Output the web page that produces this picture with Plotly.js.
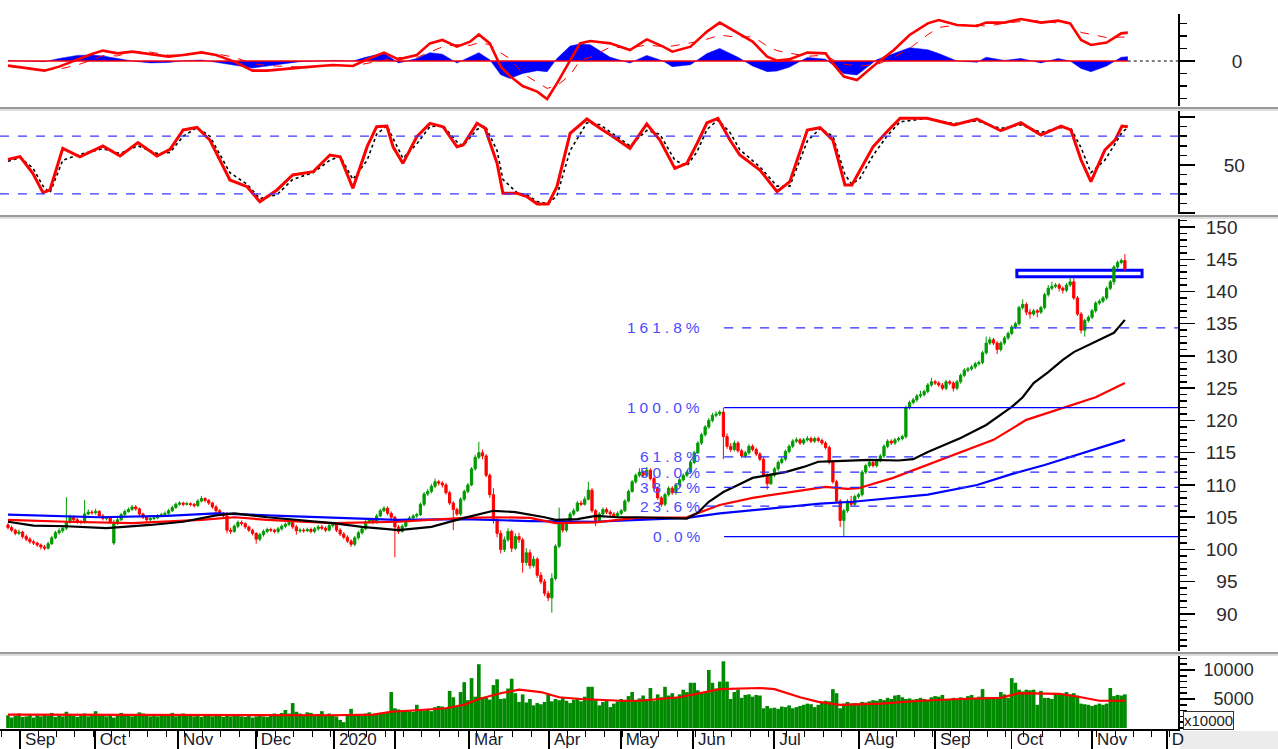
<!DOCTYPE html>
<html><head><meta charset="utf-8">
<script src="https://cdn.plot.ly/plotly-3.0.1.min.js"></script>
<style>html,body{margin:0;padding:0;background:#fff;overflow:hidden}#chart{width:1278px;height:749px}</style>
</head><body><div id="chart"></div>
<script>
// ---------- DATA ----------
const monthTicks = [3.3, 23.8, 46.6, 67.9, 89.3, 106.0, 126.3, 148.2, 167.9, 187.7, 209.9, 233.2, 254.0, 275.0, 297.0, 317.5];
const monthLabels = ['Sep','Oct','Nov','Dec','2020','','Mar','Apr','May','Jun','Jul','Aug','Sep','Oct','Nov','D'];

const open = [
103.8,103.4,103.0,102.5,102.7,102.0,101.6,101.2,101.0,100.7,
100.4,100.2,100.9,101.8,102.6,102.9,103.3,104.2,105.0,104.6,
104.3,104.2,105.5,105.8,105.7,105.9,105.2,104.8,104.9,101.0,
104.0,104.6,105.4,105.9,106.2,106.6,106.3,105.5,105.0,104.6,
104.8,104.9,105.2,105.4,105.6,106.0,106.5,107.0,107.2,107.0,
107.1,107.0,106.8,107.5,107.9,107.6,107.2,106.6,106.0,105.5,
105.2,103.0,102.8,103.6,104.2,104.0,103.5,103.0,102.5,101.6,
102.3,102.8,103.1,103.0,102.8,103.2,103.6,103.9,104.2,103.5,
102.9,103.0,102.9,103.1,102.8,103.2,103.5,103.3,103.0,103.7,
104.0,103.0,102.4,101.9,101.3,100.8,101.8,102.6,103.2,104.3,
104.6,104.2,105.2,106.0,106.4,105.6,105.0,103.5,102.8,103.6,
104.5,104.9,105.2,105.4,107.0,108.6,109.0,109.8,110.5,110.3,
110.0,108.8,107.2,106.2,105.5,107.8,109.0,110.0,112.5,114.3,
115.0,114.5,111.5,108.5,104.5,102.5,100.0,101.5,102.8,100.2,
102.0,101.5,98.0,99.5,97.5,98.5,96.0,95.0,93.2,92.5,
95.5,100.5,104.0,103.0,104.2,105.5,106.0,107.2,107.0,107.8,
109.2,106.0,104.5,105.5,106.2,105.8,105.5,105.2,105.6,106.0,
107.5,109.0,110.5,111.5,112.0,111.5,112.3,111.0,109.5,108.0,
107.0,108.5,109.5,108.8,110.0,110.8,111.5,112.0,113.5,115.0,
116.5,117.8,119.0,120.0,120.8,121.0,121.3,117.5,116.0,115.5,
116.5,115.3,114.5,115.0,116.0,115.5,114.8,114.0,111.5,110.2,
111.5,112.5,113.5,114.0,115.2,116.0,116.8,117.0,116.5,117.0,
117.2,116.8,117.2,116.9,116.5,115.8,113.5,110.5,107.5,104.5,
106.0,107.5,107.0,108.2,108.5,112.0,113.0,113.5,113.0,113.8,
114.5,116.0,116.8,116.5,117.0,117.2,117.5,122.0,122.8,123.2,
123.8,124.0,124.5,125.5,126.0,125.8,125.5,125.0,126.0,125.8,
125.0,126.0,127.0,127.8,128.0,128.3,128.8,129.0,130.5,132.0,
132.5,132.0,131.0,132.0,132.8,133.5,134.5,135.0,137.5,138.0,
136.8,136.5,137.0,136.8,137.5,139.5,140.5,140.8,141.0,140.5,
140.2,141.0,141.5,139.0,136.5,134.0,135.5,136.0,137.0,138.2,
138.5,139.0,140.5,141.5,143.8,144.5,144.8];

const high = [
104.1,103.7,103.2,103.1,102.9,102.3,101.9,101.5,101.2,100.9,
100.7,101.2,102.1,102.9,103.3,103.6,108.1,105.4,105.3,104.9,
104.6,107.7,106.2,106.1,106.3,106.1,105.5,105.2,105.1,104.6,
104.9,105.7,106.2,106.5,106.9,106.9,106.5,105.7,105.2,105.1,
105.2,105.5,105.7,105.9,106.3,106.8,107.3,107.5,107.4,107.4,
107.3,107.2,107.8,108.3,108.1,107.8,107.4,106.9,106.3,105.8,
105.8,103.4,103.9,104.5,104.5,104.2,103.7,103.2,102.7,102.6,
103.1,103.4,103.4,103.2,103.5,103.9,104.2,104.5,104.5,103.8,
103.3,103.3,103.4,103.4,103.5,103.8,103.8,103.6,104.0,104.3,
104.2,103.3,102.7,102.2,101.6,102.1,102.9,103.5,104.6,104.9,
104.9,105.5,106.3,106.7,106.7,105.9,105.2,103.8,103.9,104.8,
105.2,105.5,105.7,107.3,108.9,109.4,110.2,111.0,110.8,110.6,
110.3,109.1,107.5,106.5,108.1,109.3,110.3,112.8,114.7,116.7,
115.5,114.8,111.8,109.5,105.0,103.0,102.0,103.3,103.1,102.5,
102.6,101.8,100.2,100.0,99.0,98.8,96.5,95.4,93.6,96.3,
100.8,106.5,104.3,104.5,105.8,106.4,107.5,107.6,108.2,110.5,
109.5,106.3,105.8,106.5,106.5,106.1,105.8,105.9,106.3,107.8,
109.3,110.8,111.8,112.6,112.3,112.8,112.6,111.3,109.8,108.3,
108.8,109.8,109.8,110.3,111.1,111.8,112.3,113.8,115.3,116.8,
118.1,119.3,120.4,121.2,121.4,121.6,122.0,118.0,116.5,116.9,
116.8,115.6,115.3,116.3,116.3,115.8,115.1,114.3,111.8,111.8,
112.8,113.8,114.3,115.5,116.3,117.1,117.4,117.3,117.3,117.6,
117.5,117.5,117.5,117.2,116.8,116.1,113.8,110.8,107.8,106.3,
107.8,108.3,108.5,108.8,112.3,113.3,113.8,113.8,114.1,114.8,
116.3,117.1,117.1,117.3,117.5,117.8,122.3,123.1,123.5,124.1,
124.6,124.8,125.8,126.6,126.3,126.1,125.8,126.3,126.3,126.1,
126.3,127.3,128.1,128.3,128.6,129.1,129.3,130.8,133.0,133.0,
132.8,132.3,132.3,133.1,133.8,134.8,135.3,137.8,138.8,138.3,
137.3,137.3,137.3,137.8,139.8,141.0,141.5,141.3,141.3,140.8,
141.3,142.2,142.2,139.3,136.8,135.8,136.3,137.3,138.5,138.8,
139.3,140.8,141.8,144.1,144.8,145.1,145.8];

const low = [
103.1,102.7,102.2,102.2,101.7,101.3,100.9,100.7,100.4,100.0,
99.9,100.0,100.7,101.6,102.3,102.6,103.0,104.0,104.3,104.0,
103.9,104.0,105.3,105.4,105.4,104.9,104.5,104.5,104.0,100.7,
103.8,104.4,105.2,105.7,106.0,106.0,105.2,104.7,104.3,104.4,
104.5,104.7,105.0,105.2,105.4,105.8,106.3,106.8,106.7,106.8,
106.7,106.5,106.6,107.3,107.3,106.9,106.3,105.7,105.2,104.9,
102.5,102.4,102.6,103.3,103.7,103.2,102.7,102.2,100.9,101.3,
102.0,102.5,102.7,102.5,102.5,102.9,103.3,103.6,103.2,102.3,
102.6,102.6,102.7,102.5,102.5,102.9,103.0,102.7,102.8,103.4,
102.7,102.1,101.6,101.0,100.4,100.5,101.5,102.3,103.0,104.0,
103.9,104.0,105.0,105.8,105.3,104.7,98.8,102.4,102.6,103.4,
104.2,104.6,104.9,105.2,106.7,108.3,108.7,109.5,109.9,109.6,
108.5,106.9,103.0,105.2,105.2,107.5,108.7,109.8,112.2,114.0,
114.0,111.2,108.0,104.0,101.9,99.4,99.6,101.2,99.6,99.9,
101.0,96.4,97.5,97.0,97.2,95.6,94.6,92.8,92.0,90.2,
95.2,100.2,102.6,102.7,104.0,105.2,105.8,106.7,106.8,107.6,
105.7,103.6,104.2,105.2,105.5,105.2,104.9,104.9,105.3,105.8,
107.3,108.8,110.2,111.2,111.2,111.2,110.7,109.2,107.7,106.6,
106.7,108.2,108.5,108.5,109.7,110.5,111.2,111.8,113.2,114.8,
116.2,117.5,118.7,119.7,120.5,120.7,114.0,115.6,115.1,115.2,
115.0,114.2,114.2,114.7,115.2,114.5,113.7,111.2,109.3,110.0,
111.2,112.2,113.2,113.7,114.9,115.7,116.5,116.2,116.2,116.7,
116.5,116.5,116.6,116.2,115.5,113.2,110.2,107.2,103.5,102.0,
105.7,106.7,106.7,107.9,108.2,111.7,112.7,112.7,112.7,113.5,
114.2,115.7,116.2,116.2,116.7,116.9,117.2,121.7,122.5,122.9,
123.5,123.7,124.2,125.2,125.5,125.2,124.7,124.7,125.5,124.5,
124.7,125.7,126.7,127.5,127.7,128.0,128.5,128.7,130.2,131.7,
131.7,130.3,130.7,131.7,132.5,133.2,134.2,134.7,137.2,136.3,
135.8,136.2,136.0,136.5,137.2,139.2,140.2,140.5,140.0,139.7,
139.9,140.7,138.7,136.2,133.5,133.0,135.2,135.7,136.7,137.9,
138.2,138.7,140.2,141.0,143.5,144.2,143.2];

const close = [
103.4,103.0,102.5,102.7,102.0,101.6,101.2,101.0,100.7,100.4,
100.2,100.9,101.8,102.6,102.9,103.3,104.2,105.0,104.6,104.3,
104.2,105.5,105.8,105.7,105.9,105.2,104.8,104.9,104.3,104.0,
104.6,105.4,105.9,106.2,106.6,106.3,105.5,105.0,104.6,104.8,
104.9,105.2,105.4,105.6,106.0,106.5,107.0,107.2,107.0,107.1,
107.0,106.8,107.5,107.9,107.6,107.2,106.6,106.0,105.5,105.2,
103.0,102.8,103.6,104.2,104.0,103.5,103.0,102.5,101.6,102.3,
102.8,103.1,103.0,102.8,103.2,103.6,103.9,104.2,103.5,102.9,
103.0,102.9,103.1,102.8,103.2,103.5,103.3,103.0,103.7,104.0,
103.0,102.4,101.9,101.3,100.8,101.8,102.6,103.2,104.3,104.6,
104.2,105.2,106.0,106.4,105.6,105.0,103.5,102.8,103.6,104.5,
104.9,105.2,105.4,107.0,108.6,109.0,109.8,110.5,110.3,110.0,
108.8,107.2,106.2,105.5,107.8,109.0,110.0,112.5,114.3,115.0,
114.5,111.5,108.5,104.5,102.5,100.0,101.5,102.8,100.2,102.0,
101.5,98.0,99.5,97.5,98.5,96.0,95.0,93.2,92.5,95.5,
100.5,104.0,103.0,104.2,105.5,106.0,107.2,107.0,107.8,109.2,
106.0,104.5,105.5,106.2,105.8,105.5,105.2,105.6,106.0,107.5,
109.0,110.5,111.5,112.0,111.5,112.3,111.0,109.5,108.0,107.0,
108.5,109.5,108.8,110.0,110.8,111.5,112.0,113.5,115.0,116.5,
117.8,119.0,120.0,120.8,121.0,121.3,117.5,116.0,115.5,116.5,
115.3,114.5,115.0,116.0,115.5,114.8,114.0,111.5,110.2,111.5,
112.5,113.5,114.0,115.2,116.0,116.8,117.0,116.5,117.0,117.2,
116.8,117.2,116.9,116.5,115.8,113.5,110.5,107.5,104.5,106.0,
107.5,107.0,108.2,108.5,112.0,113.0,113.5,113.0,113.8,114.5,
116.0,116.8,116.5,117.0,117.2,117.5,122.0,122.8,123.2,123.8,
124.0,124.5,125.5,126.0,125.8,125.5,125.0,126.0,125.8,125.0,
126.0,127.0,127.8,128.0,128.3,128.8,129.0,130.5,132.0,132.5,
132.0,131.0,132.0,132.8,133.5,134.5,135.0,137.5,138.0,136.8,
136.5,137.0,136.8,137.5,139.5,140.5,140.8,141.0,140.5,140.2,
141.0,141.5,139.0,136.5,134.0,135.5,136.0,137.0,138.2,138.5,
139.0,140.5,141.5,143.8,144.5,144.8,143.5];

const volume = [
2200,1800,2100,2500,1900,2000,2300,1800,2200,2000,
2400,2100,2600,1900,2200,2000,2800,2300,2100,1900,
2200,2500,2000,2300,2900,2100,2400,2000,2200,1800,
2300,2600,2100,2400,2000,2200,2700,2500,2300,2000,
2200,2000,2400,2100,2300,2600,2000,2200,2500,2100,
2300,2000,2200,1900,2400,2100,2000,2300,2200,1900,
2100,2000,2300,2200,2000,1900,2100,1800,2000,2200,
2000,1900,2300,2500,2100,2600,3100,2500,4300,2800,
2500,2200,2700,2600,2300,2400,2900,2200,2500,2100,
2000,1400,1000,2200,3300,2400,2300,2100,2500,2700,
2400,2300,2600,2500,2800,6200,3400,3200,3000,3100,
2900,2800,4000,3200,3000,3300,2900,3600,3800,3700,
3400,6400,5300,3700,6200,7900,4800,8600,5400,11000,
5300,5200,4900,7400,8400,5000,5100,6800,8500,6000,
4500,5800,4400,5000,3900,4300,4100,4500,5900,4600,
5000,4800,5200,4700,4300,4900,5100,4600,5400,7100,
7100,4800,3900,4500,4800,3600,4200,4600,5000,4700,
5500,6200,4800,5100,5600,5000,6900,4700,5800,5300,
7100,5600,6000,5300,5800,6600,6200,7800,7800,6500,
6200,6200,10000,7800,6800,8000,11500,8000,5000,6200,
6600,5200,5700,5800,5400,5700,5600,3400,3800,3400,
3500,3300,3700,3600,3900,3400,3600,3800,4000,4200,
4100,3600,4000,4400,4700,4600,6700,6000,3400,4200,
4500,4200,4300,4200,4500,4400,4600,4800,4700,5000,
4800,5200,5000,5600,5700,5300,5000,5100,4900,5000,
5200,5000,4800,5300,5500,5400,5700,5000,4900,5200,
5000,5300,5100,5500,5700,5200,5400,6700,5300,5200,
5000,5300,6200,5800,5200,8600,7800,6600,6300,6600,
6500,6600,4000,6400,5200,5200,5000,6000,6000,5900,
6200,5800,6000,5600,4200,4100,4000,3800,4000,4200,
4000,4200,6900,5500,5700,5600,5800];

const volMaX = [0,30,60,89,100,105,113,120,125,129,135,140,146,151,157,168,173,184,195,206,210,217,222,228,239,250,261,272,277,288,294,299,306];
const volMa  = [2300,2250,2200,2200,2300,2800,3100,3400,4000,5000,6000,6600,6200,5300,5000,4700,4700,5300,6700,6900,6700,5300,4500,4000,4200,4700,5000,5200,6000,5900,5300,4700,4700];

const maBlackX = [0,7,16,27,39,48,57,62,71,80,89,97,107,116,125,133,139,147,150,156,161,167,172,186,189,192,196,200,204,209,213,218,222,227,236,244,248,252,261,268,275,278,281,285,289,292,297,303,306];
const maBlack  = [104.3,103.7,103.6,103.3,103.8,104.3,105.3,105.6,105.0,104.6,104.1,103.5,103.0,103.5,104.9,106.0,105.8,105.0,104.6,104.7,105.2,105.0,105.0,104.8,105.7,107.4,108.9,110.0,111.1,111.6,112.0,112.8,113.6,113.7,113.9,113.8,114.0,115.1,117.3,119.3,122.1,123.6,125.8,127.5,129.4,130.6,132.0,133.6,135.6];
const maRedX = [0,16,34,53,62,71,89,107,125,134,143,150,161,172,186,191.5,195,204,213,224,230,233,242.5,252,261,270,279,288.5,298,306];
const maRed  = [104.6,104.3,104.1,104.6,105.0,104.6,104.1,104.3,104.9,105.0,104.9,104.1,104.2,104.9,105.0,106.1,106.9,108.0,108.8,109.7,109.4,109.5,111.1,113.1,115.0,117.0,120.1,121.9,123.6,125.8];
const maBlueX = [0,25,43.5,57,71,89,106.5,124.7,143,161,172,186,195,204,213,222.5,231.5,244,252,265.5,274.5,284,293,306];
const maBlue  = [105.4,105.0,105.2,105.6,105.3,104.9,104.6,104.7,104.4,104.3,104.6,104.9,105.6,106.1,106.6,107.1,107.4,108.0,108.5,110.0,111.6,113.1,114.7,117.0];

const macdX = [0,5,10,14,19,23,26,30,34,39,44,48,53,57,62,67,71,80,89,94.5,98,103,107,112,115.6,119,123,126.6,129,132,135,137.5,141,145,147.7,150.4,154,156.7,159.5,165,170.4,175,179.5,182,187,191.5,195,200,204,208,210.7,214,219,224,226,229,232.6,238,242.7,247,252,255,260,265.5,268,273,277.5,283,287.7,291,294,296.7,301,305,306.8];
const macdLine = [-0.37,-0.59,-0.77,-0.45,0.13,0.56,0.83,0.61,0.75,0.56,0.35,0.48,0.69,0.48,-0.05,-0.77,-0.77,-0.53,-0.32,-0.40,0.08,0.67,0.13,0.48,1.41,1.68,1.15,1.55,2.13,1.41,-0.45,-1.2,-2.0,-2.45,-3.04,-1.79,0.08,1.41,1.60,1.41,0.88,1.73,1.15,0.75,1.15,2.35,3.07,2.21,1.55,0.35,0.03,0.13,0.67,0.61,-0.19,-1.25,-1.52,-0.19,0.88,2.08,3.01,3.28,2.88,2.80,3.07,3.07,3.36,3.07,3.23,3.01,1.68,1.28,1.47,2.21,2.27];
const macdSignal = [-0.42,-0.59,-0.72,-0.65,-0.32,0.08,0.43,0.41,0.75,0.71,0.47,0.46,0.61,0.58,0.30,-0.21,-0.37,-0.48,-0.37,-0.40,-0.22,0.03,0.28,0.28,0.74,1.13,1.31,1.25,1.46,1.31,0.65,0.19,-1.0,-1.68,-2.19,-1.99,-1.12,0.05,0.30,1.11,1.04,1.28,1.15,1.20,1.45,1.75,2.06,1.91,1.95,1.20,0.83,0.63,0.38,0.46,0.11,-0.25,-0.40,-0.29,0.28,1.01,2.11,2.68,2.88,2.90,2.77,3.02,3.16,3.22,3.03,3.01,2.28,2.14,1.87,1.91,1.92];
const macdHist = [0.05,0.0,-0.05,0.2,0.45,0.48,0.4,0.2,0.0,-0.15,-0.12,0.02,0.08,-0.1,-0.35,-0.56,-0.4,-0.05,0.05,0.0,0.3,0.64,-0.15,0.2,0.67,0.55,-0.16,0.3,0.67,0.1,-1.1,-1.39,-1.0,-0.77,-0.85,0.2,1.2,1.36,1.3,0.3,-0.16,0.45,0.0,-0.45,-0.3,0.6,1.01,0.3,-0.4,-0.85,-0.8,-0.5,0.29,0.15,-0.3,-1.0,-1.12,0.1,0.6,1.07,0.9,0.6,0.0,-0.1,0.3,0.05,0.2,-0.15,0.2,0.0,-0.6,-0.86,-0.4,0.3,0.35];

const stochX = [0,3.3,6.8,9.6,11.5,15,19.7,26,30.7,35.6,40.8,44.4,48,51.8,55.3,60.8,65.5,69,73.7,78,83.6,88.2,91,94.5,98.4,101,103.8,105.5,108.2,112,115.6,119.2,123,124.7,128.5,130.7,134,135.6,139.5,142.2,145,148,150.4,154,158.6,162.2,165.8,170.4,175,178.6,182.7,186,188.8,191.5,194.5,197.8,200.5,206,210.7,214.2,219,222.5,226,229.3,231.2,233.4,237,240.8,244.4,251.8,259.2,265.5,272,277.5,283,288.5,291.2,294,296.7,300.5,303.3,305.2,306.8];
const stochK = [55.9,58.7,41.3,21.2,24,67.4,58.6,69.8,59.4,73.3,59.4,66.3,86.5,89.2,76,34.4,27.4,11.8,24,39.6,43,60.4,58.6,25.7,69.1,89.9,90.6,69,51.7,79.5,93.4,89.9,69,70.8,93.4,88.2,51.8,20.5,20.5,17,9.4,9.4,27.4,83,97.9,88.2,79.5,67.4,92.7,76,46.5,51.8,72.6,94,98.6,76,60.4,44.8,22.2,32.6,86.5,88.9,76,29.2,29.2,44,69,84.7,98.6,98.6,91.7,97.9,85.7,94,81.2,90.6,86.5,55.2,32.6,65.6,76,90.6,89.9];
const stochD = [54,57.5,47,28,21,55,61,67,62,70,62,63,80,89,80,42,30,15,19,35,42,55,59,35,55,82,91,78,57,72,90,91,74,70,87,91,65,35,21,19,12,9.5,18,65,94,92,82,70,86,82,55,49,64,87,97,84,66,48,28,28,75,88,80,40,30,36,60,80,95,98.6,93,96,88,92,84,89,88,68,42,55,72,84,89];

const fibLow = 102.0, fibHigh = 122.0, fibStart = 196.2;
const fibLevels = [0, 23.6, 38.2, 50.0, 61.8, 100.0, 161.8];
const boxX = [276.4, 310.7], boxY = [142.3, 143.3];

// ---------- LAYOUT HELPERS ----------
const XR = [-2.19, 320.55];
const PB = 729;                  // plot-area bottom in px (margin t = 0)
const py = p => 1 - p / PB;      // pixel row -> paper fraction
const days = close.map((_, i) => i);
const FONT = 'Liberation Sans, Arial, sans-serif';
const fs = '\u2007';

const priceTicks = [90,95,100,105,110,115,120,125,130,135,140,145,150];
const priceText = priceTicks.map(v => (v < 100 ? fs : '') + v);

function yAx(extra) {
  return Object.assign({
    side: 'right', anchor: 'x', showgrid: false, zeroline: false,
    showline: true, linecolor: '#000', linewidth: 2,
    ticks: 'outside', ticklen: 15, tickwidth: 1.5, tickcolor: '#000',
    tickmode: 'array', tickfont: {family: FONT, size: 19, color: '#2a2a2a'}, fixedrange: true
  }, extra);
}

const traces = [
  {type: 'bar', x: days, y: volume, xaxis: 'x', yaxis: 'y4', width: 1,
   marker: {color: '#008a00', line: {width: 0}}},
  {type: 'scatter', mode: 'lines', x: volMaX, y: volMa, xaxis: 'x2', yaxis: 'y4',
   line: {color: '#ff0000', width: 2.2}},
  {type: 'scatter', mode: 'lines', x: maBlueX, y: maBlue, xaxis: 'x', yaxis: 'y',
   line: {color: '#0000ff', width: 2.2}},
  {type: 'scatter', mode: 'lines', x: maRedX, y: maRed, xaxis: 'x', yaxis: 'y',
   line: {color: '#ff0000', width: 2.2}},
  {type: 'scatter', mode: 'lines', x: maBlackX, y: maBlack, xaxis: 'x', yaxis: 'y',
   line: {color: '#000000', width: 2.2}},
  {type: 'candlestick', x: days, open: open, high: high, low: low, close: close,
   xaxis: 'x', yaxis: 'y', whiskerwidth: 0,
   increasing: {line: {color: '#009a00', width: 1}, fillcolor: '#009a00'},
   decreasing: {line: {color: '#ff0000', width: 1}, fillcolor: '#ff0000'}},
  {type: 'scatter', mode: 'lines', x: macdX, y: macdHist, xaxis: 'x', yaxis: 'y3',
   fill: 'tozeroy', fillcolor: '#0000ff', line: {color: '#0000ff', width: 0.5}},
  {type: 'scatter', mode: 'lines', x: macdX, y: macdSignal, xaxis: 'x', yaxis: 'y3',
   line: {color: '#ff0000', width: 1, dash: 'dash'}},
  {type: 'scatter', mode: 'lines', x: macdX, y: macdLine, xaxis: 'x', yaxis: 'y3',
   line: {color: '#ff0000', width: 2.6}},
  {type: 'scatter', mode: 'lines', x: stochX, y: stochD, xaxis: 'x', yaxis: 'y2',
   line: {color: '#000000', width: 1.6, dash: 'dot'}},
  {type: 'scatter', mode: 'lines', x: stochX, y: stochK, xaxis: 'x', yaxis: 'y2',
   line: {color: '#ff0000', width: 3}}
];

const shapes = [];
// panel separators
[108, 216, 653].forEach(p => {
  shapes.push({type: 'line', xref: 'paper', yref: 'paper', x0: 0, x1: 1278 / 1178, y0: py(p), y1: py(p),
               line: {color: '#9a9a9a', width: 2}});
  shapes.push({type: 'line', xref: 'paper', yref: 'paper', x0: 0, x1: 1278 / 1178, y0: py(p + 2), y1: py(p + 2),
               line: {color: '#dedede', width: 2}});
});
// stochastic 80 / 20 guides
[80, 20].forEach(v => shapes.push({type: 'line', xref: 'paper', yref: 'y2', x0: 0, x1: 1, y0: v, y1: v,
  line: {color: '#3a3aff', width: 1.2, dash: 'dash'}}));
// MACD zero line
const lastDay = days[days.length - 1] + 0.8;
shapes.push({type: 'line', xref: 'x', yref: 'y3', x0: 0, x1: lastDay, y0: 0, y1: 0, line: {color: '#ff0000', width: 1.6}});
shapes.push({type: 'line', xref: 'x', yref: 'y3', x0: lastDay, x1: XR[1], y0: 0, y1: 0, line: {color: '#000', width: 1, dash: 'dot'}});
// Fibonacci levels
const annotations = [];
fibLevels.forEach(l => {
  const v = fibLow + (fibHigh - fibLow) * l / 100;
  const solid = (l === 0 || l === 100);
  const start = (solid || l > 100) ? fibStart : 191.3;
  shapes.push({type: 'line', xref: 'x', yref: 'y', x0: start, x1: XR[1], y0: v, y1: v,
               line: {color: solid ? '#0000ff' : '#2a2aff', width: 1.2, dash: solid ? 'solid' : 'dash'}});
  annotations.push({xref: 'x', yref: 'y', x: 191.2, y: v, xanchor: 'right', yanchor: 'middle', showarrow: false,
    text: '<span style="letter-spacing:4px">' + l.toFixed(1) + '%</span>',
    font: {family: FONT, size: 15.5, color: '#4a4aff'}});
});
// resistance box
shapes.push({type: 'rect', xref: 'x', yref: 'y', x0: boxX[0], x1: boxX[1], y0: boxY[0], y1: boxY[1],
             line: {color: '#0000ff', width: 3}, fillcolor: 'rgba(255,255,255,0)', layer: 'below'});
// bottom-right grey corner
shapes.push({type: 'rect', xref: 'paper', yref: 'paper', x0: 1180 / 1178, x1: 1278 / 1178, y0: py(749), y1: py(731),
             line: {width: 0}, fillcolor: '#ececec', layer: 'below'});
annotations.push({xref: 'paper', yref: 'paper', x: 1183 / 1178, y: py(720), xanchor: 'left', yanchor: 'middle',
  showarrow: false, text: 'x10000', font: {family: FONT, size: 15, color: '#222'},
  bgcolor: '#fff', bordercolor: '#333', borderwidth: 1, borderpad: 0});

const layout = {
  width: 1278, height: 749, margin: {l: 0, r: 100, t: 0, b: 20},
  paper_bgcolor: '#fff', plot_bgcolor: '#fff', showlegend: false, hovermode: false, dragmode: false,
  boxgap: 0.12,
  xaxis: {domain: [0, 1], range: XR, anchor: 'y4', showgrid: false, zeroline: false,
    showline: true, linecolor: '#000', linewidth: 2,
    tickmode: 'array', tickvals: monthTicks, ticktext: monthLabels, ticks: '',
    ticklabelposition: 'outside right', ticklabelshift: 4, ticklabelstandoff: -6,
    tickfont: {family: FONT, size: 17, color: '#1a1a2a'},
    minor: {ticks: 'outside', ticklen: 6, tickcolor: '#000', tickwidth: 1, dtick: 5, tick0: 3.3},
    rangeslider: {visible: false}, fixedrange: true},
  xaxis2: {overlaying: 'x', anchor: 'y4', range: XR, showgrid: false, zeroline: false, showline: false,
    tickmode: 'array', tickvals: monthTicks, ticks: 'outside', ticklen: 20, tickwidth: 1.5, tickcolor: '#000',
    showticklabels: false, fixedrange: true},
  yaxis: yAx({domain: [py(651), py(219)], range: [84.26, 151.24], tickvals: priceTicks, ticktext: priceText,
    ticklabelstandoff: 7,
    minor: {ticks: 'outside', ticklen: 7, dtick: 1, tick0: 0, tickcolor: '#000'}}),
  yaxis2: yAx({domain: [py(214), py(110)], range: [-1.04, 107.3], tickvals: [0, 50, 100], ticktext: ['', '50', ''],
    ticklabelstandoff: 25,
    minor: {ticks: 'outside', ticklen: 7, dtick: 10, tick0: 0, tickcolor: '#000'}}),
  yaxis3: yAx({domain: [py(106), py(14)], range: [-3.6, 3.76], tickvals: [0], ticktext: ['0'],
    ticklabelstandoff: 33,
    minor: {ticks: 'outside', ticklen: 7, dtick: 1, tick0: 0, tickcolor: '#000'}}),
  yaxis4: yAx({domain: [0, py(656)], range: [-172, 12414], tickvals: [5000, 10000], ticktext: [fs + '5000', '10000'],
    ticklabelstandoff: 5, tickfont: {family: FONT, size: 18, color: '#2a2a2a'},
    minor: {ticks: 'outside', ticklen: 7, dtick: 1000, tick0: 0, tickcolor: '#000'}}),
  shapes: shapes, annotations: annotations
};

Plotly.newPlot('chart', traces, layout, {staticPlot: true, displayModeBar: false});
</script></body></html>
